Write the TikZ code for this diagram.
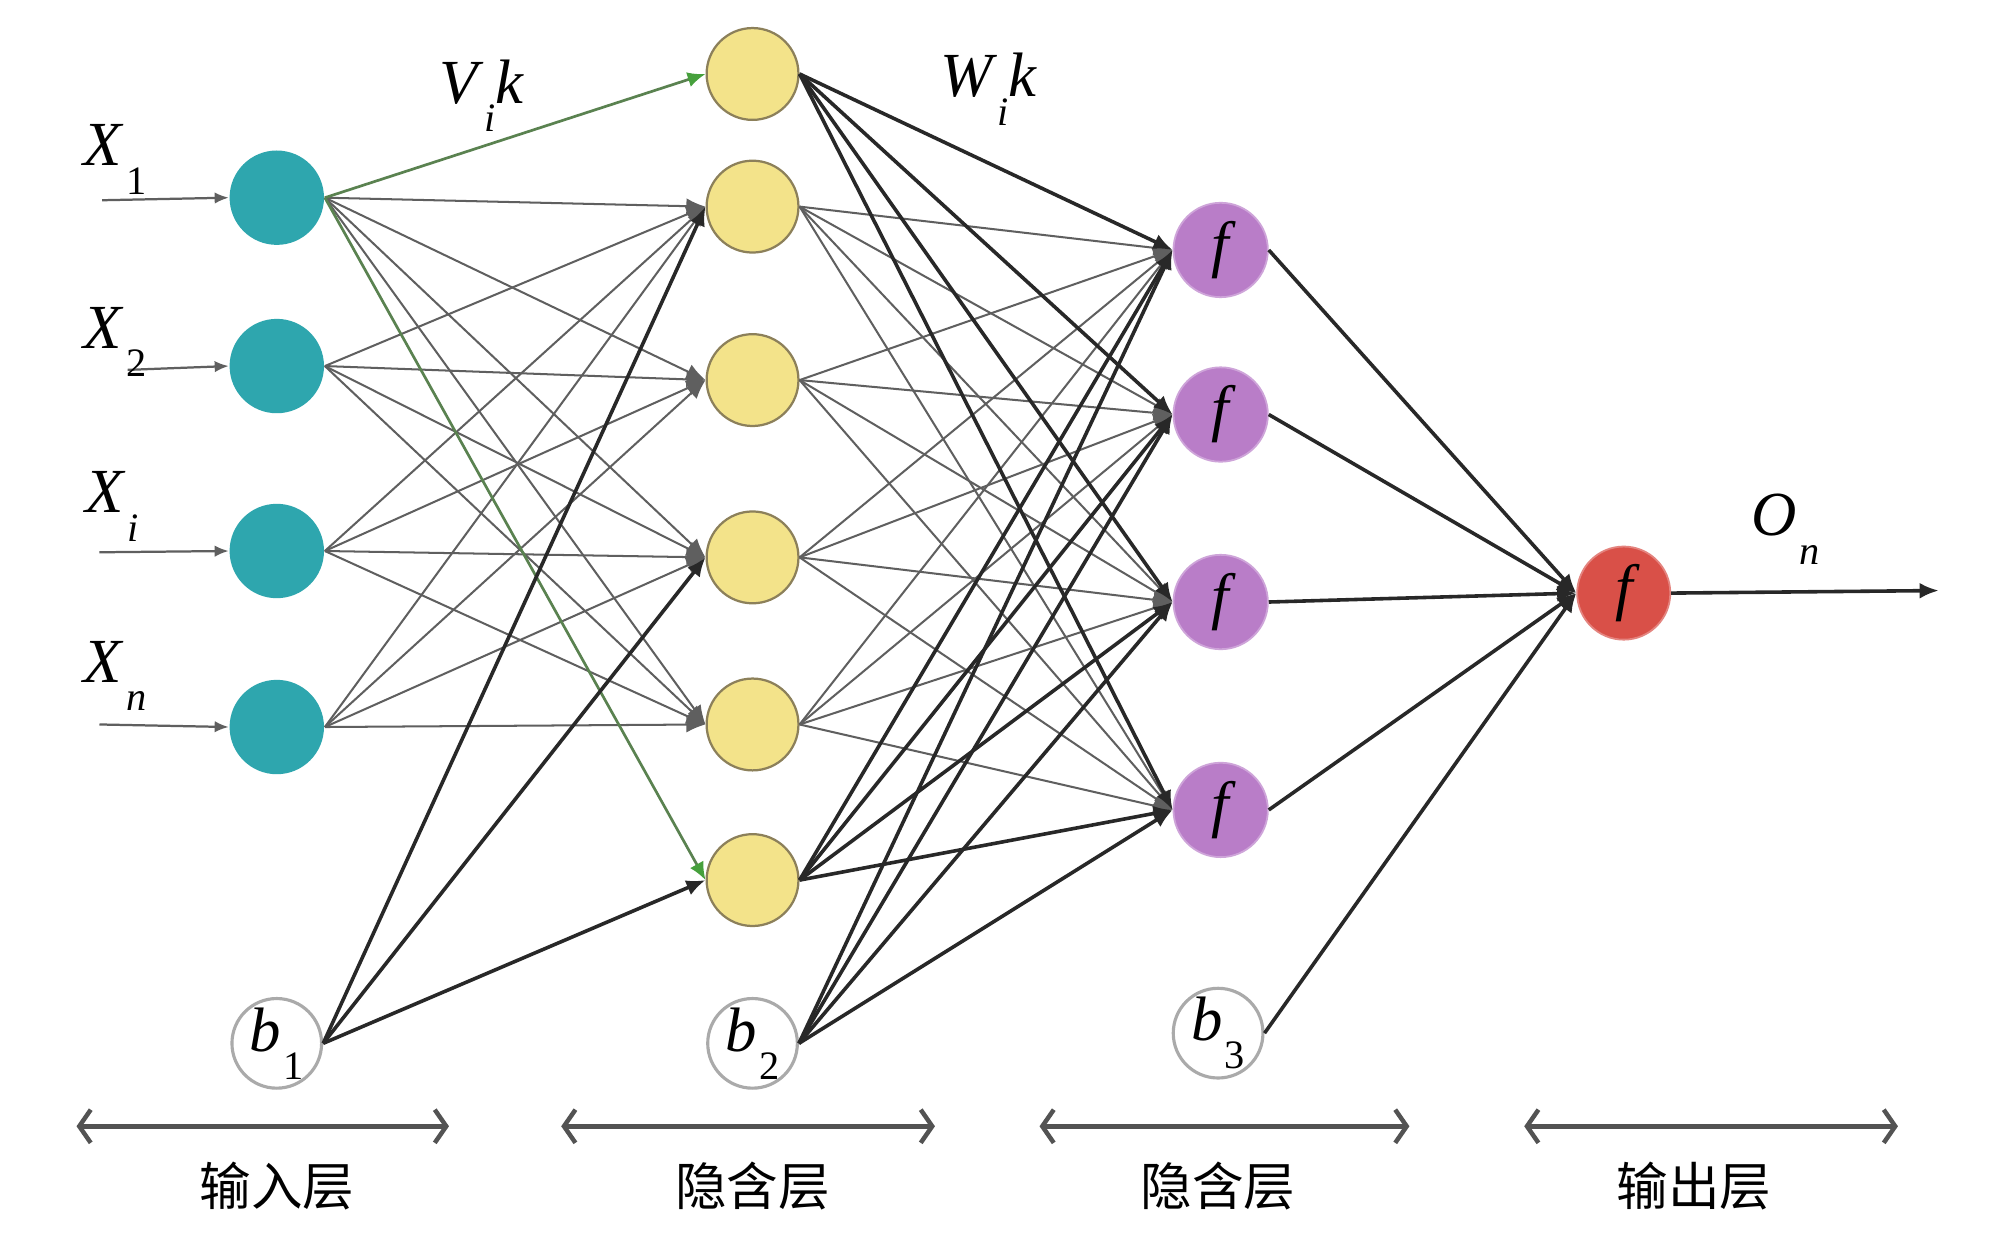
\documentclass[tikz,border=0pt]{standalone}
\usepackage{fontspec}
\setmainfont{Liberation Serif}
\newfontfamily\cjk{Noto Sans CJK SC}
\usetikzlibrary{arrows.meta}
\definecolor{tealc}{RGB}{46,166,174}
\definecolor{yelc}{RGB}{243,227,138}
\definecolor{yelb}{RGB}{140,128,90}
\definecolor{purc}{RGB}{185,125,200}
\definecolor{redc}{RGB}{217,80,72}
\definecolor{grnc}{RGB}{70,160,60}
\definecolor{grnline}{RGB}{90,130,80}
\definecolor{thinc}{RGB}{95,95,95}
\definecolor{darkc}{RGB}{40,40,40}
\definecolor{biasb}{RGB}{170,170,170}
\newcommand\mylbl[2]{\textit{#1}\kern0.5pt\raisebox{-0.45em}{\fontsize{9}{9}\selectfont #2}}
\begin{document}
\begin{tikzpicture}[x=0.1mm,y=-0.1mm,
  inp/.style={circle,fill=tealc,draw=none,minimum size=7.4mm,inner sep=0pt},
  hid/.style={circle,fill=yelc,draw=yelb,line width=0.5pt,minimum size=7.2mm,inner sep=0pt},
  hidb/.style={circle,fill=purc,draw=purc!70!white,line width=0.4pt,minimum size=7.4mm,inner sep=0pt,font=\fontsize{14}{14}\selectfont\itshape},
  outn/.style={circle,fill=redc,draw=redc!70!white,line width=0.4pt,minimum size=7.3mm,inner sep=0pt,font=\fontsize{14}{14}\selectfont\itshape},
  bias/.style={circle,fill=white,draw=biasb,line width=0.7pt,minimum size=7.0mm,inner sep=0pt,font=\fontsize{14}{14}\selectfont},
  lbl/.style={font=\fontsize{14}{14}\selectfont,inner sep=0pt},
  layerlbl/.style={font=\cjk\fontsize{11.5}{12}\selectfont,inner sep=0pt},
  tip/.style={-{Latex[length=1.5mm,width=1.25mm]}},
  thinedge/.style={tip,draw=thinc,line width=0.45pt},
  darkedge/.style={tip,draw=darkc,line width=0.8pt},
  greenedge/.style={-{Latex[length=1.4mm,width=1.2mm,fill=grnc,color=grnc]},draw=grnline,line width=0.6pt},
  inarrow/.style={-{Latex[length=1.1mm,width=0.9mm]},draw=thinc,line width=0.5pt},
  layerarrow/.style={{Straight Barb[length=0.9mm,width=2.6mm]}-{Straight Barb[length=0.9mm,width=2.6mm]},draw=darkc!80!white,line width=1pt}
]
\useasboundingbox[fill=white] (0,0) rectangle (1568,973);

% input layer
\node[inp] (x1) at (217,155) {};
\node[inp] (x2) at (217,287) {};
\node[inp] (x3) at (217,432) {};
\node[inp] (x4) at (217,570) {};
\node[bias] (b1) at (217,818) {\mylbl{b}{1}};

% hidden layer 1
\node[hid] (h1) at (590,58) {};
\node[hid] (h2) at (590,162) {};
\node[hid] (h3) at (590,298) {};
\node[hid] (h4) at (590,437) {};
\node[hid] (h5) at (590,568) {};
\node[hid] (h6) at (590,690) {};
\node[bias] (b2) at (590,818) {\mylbl{b}{2}};

% hidden layer 2
\node[hidb] (p1) at (957,196) {f};
\node[hidb] (p2) at (957,325) {f};
\node[hidb] (p3) at (957,472) {f};
\node[hidb] (p4) at (957,635) {f};
\node[bias] (b3) at (955,810) {\mylbl{b}{3}};

% output
\node[outn] (r) at (1273,465) {f};

% input arrows
\coordinate (i1) at (80,157);
\coordinate (i2) at (100,290);
\coordinate (i3) at (78,433);
\coordinate (i4) at (78,568);
\foreach \k in {1,...,4} \draw[inarrow] (i\k) -- (x\k.west);

% input -> hidden1
\foreach \a in {1,...,4}
  \foreach \b in {2,...,5}
    \draw[thinedge] (x\a.east) -- (h\b.west);
\draw[greenedge] (x1.east) -- (h1.west);
\draw[greenedge] (x1.east) -- (h6.west);
\foreach \b in {2,4,6} \draw[darkedge] (b1.east) -- (h\b.west);

% hidden1 -> hidden2
\foreach \a in {2,...,5}
  \foreach \b in {1,...,4}
    \draw[thinedge] (h\a.east) -- (p\b.west);
\foreach \b in {1,...,4} {
  \draw[darkedge] (h1.east) -- (p\b.west);
  \draw[darkedge] (h6.east) -- (p\b.west);
  \draw[darkedge] (b2.east) -- (p\b.west);
}

% hidden2 -> output
\foreach \a in {1,...,4} \draw[darkedge] (p\a.east) -- (r.west);
\draw[darkedge] (b3.east) -- (r.west);

\coordinate (o) at (1520,463);
\draw[darkedge] (r.east) -- (o);

% labels
\node[lbl] (lx1) at (90,125) {\mylbl{X}{1}};
\node[lbl] (lx2) at (90,268) {\mylbl{X}{2}};
\node[lbl] (lx3) at (88,397) {\mylbl{X}{\itshape i}};
\node[lbl] (lx4) at (90,530) {\mylbl{X}{\itshape n}};
\node[lbl] (lv) at (378,75) {\textit{V}\raisebox{-0.45em}{\fontsize{9}{9}\selectfont\itshape i}\textit{k}};
\node[lbl] (lw) at (775,70) {\textit{W}\raisebox{-0.45em}{\fontsize{9}{9}\selectfont\itshape i}\textit{k}};
\node[lbl] (lo) at (1400,415) {\mylbl{O}{\itshape n}};

% layer arrows
\coordinate (a1) at (60,883);   \coordinate (c1) at (352,883);
\coordinate (a2) at (440,883);  \coordinate (c2) at (733,883);
\coordinate (a3) at (815,883);  \coordinate (c3) at (1105,883);
\coordinate (a4) at (1195,883); \coordinate (c4) at (1488,883);
\foreach \k in {1,...,4} \draw[layerarrow] (a\k) -- (c\k);

\node[layerlbl] (t1) at (217,930) {输入层};
\node[layerlbl] (t2) at (590,930) {隐含层};
\node[layerlbl] (t3) at (955,930) {隐含层};
\node[layerlbl] (t4) at (1328,930) {输出层};
\end{tikzpicture}
\end{document}
